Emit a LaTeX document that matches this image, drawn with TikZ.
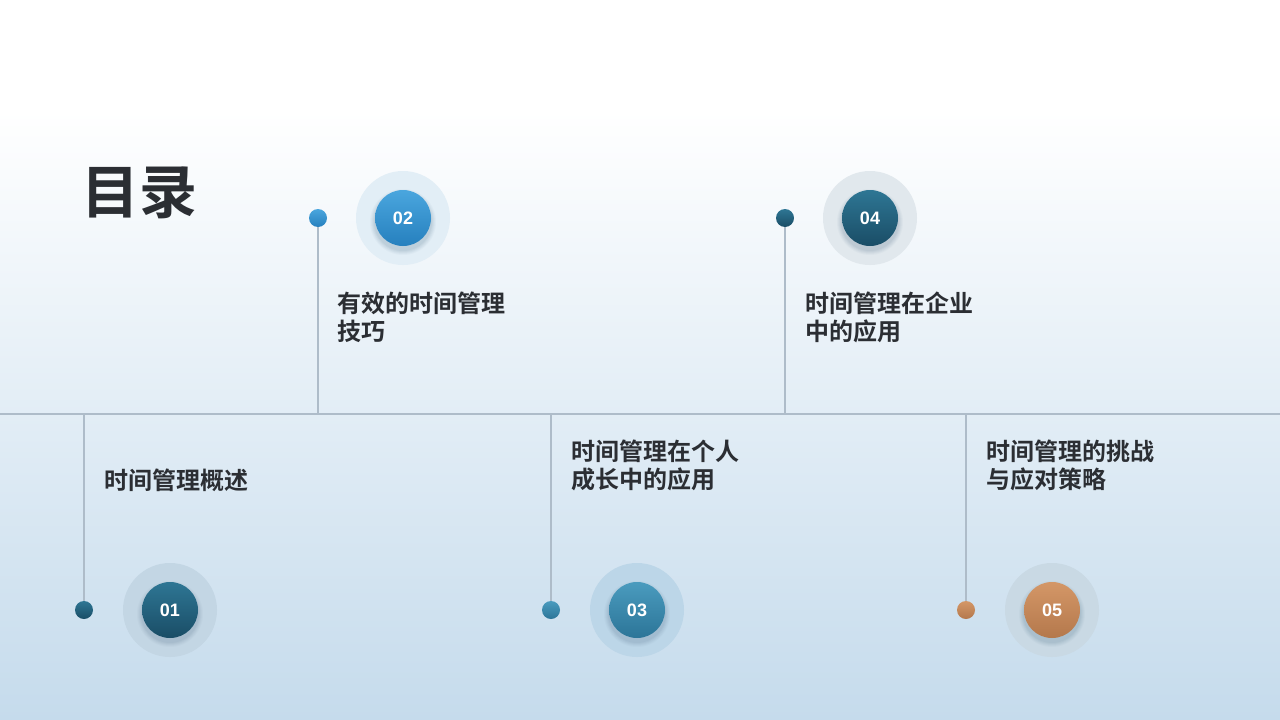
\documentclass[tikz,border=0pt]{standalone}
\usepackage{fontspec}
\newfontfamily\cjk{Noto Sans CJK SC}[BoldFont={Noto Sans CJK SC Bold}]
\newfontfamily\numf{Liberation Sans}
\definecolor{txt}{HTML}{2B2E33}
\definecolor{bgbot}{HTML}{C5DBEC}
\definecolor{axis}{HTML}{AEBCC9}
\definecolor{tealA}{HTML}{2E7694}
\definecolor{tealB}{HTML}{1A4D66}
\definecolor{blueA}{HTML}{4AA6DE}
\definecolor{blueB}{HTML}{2680BE}
\definecolor{midA}{HTML}{4A9BBE}
\definecolor{midB}{HTML}{2C7598}
\definecolor{orA}{HTML}{D49767}
\definecolor{orB}{HTML}{B4784C}
\definecolor{haloA}{HTML}{C3D6E4}
\definecolor{haloB}{HTML}{E2EEF6}
\definecolor{haloC}{HTML}{BCD6E8}
\definecolor{haloD}{HTML}{E1E8ED}
\definecolor{haloE}{HTML}{C9D9E4}
\definecolor{shad}{HTML}{5F7F96}
\tikzset{
  lbl/.style={anchor=west,align=left,font=\cjk\bfseries\fontsize{24}{28}\selectfont,text=txt,inner sep=0pt},
  stem/.style={draw=axis,line width=1.2pt},
  halo/.style={circle,minimum size=94pt,inner sep=0pt},
  num/.style={circle,minimum size=56pt,inner sep=0pt,text=white,font=\numf\bfseries\fontsize{18}{18}\selectfont},
  dot/.style={circle,minimum size=18pt,inner sep=0pt},
}
\newcommand{\softshadow}[1]{%
  \foreach \r/\o in {33/0.04,32/0.05,31/0.06,30/0.07,29/0.08}{\fill[shad,opacity=\o] #1 circle (\r);}}
\begin{document}
\begin{tikzpicture}[x=1pt,y=-1pt]
\useasboundingbox (0,0) rectangle (1280,720);
\fill[white] (0,0) rectangle (1280,110);
\shade[top color=white,bottom color=bgbot] (0,110) rectangle (1280,720);
% title
\node[anchor=west,inner sep=0pt,font=\cjk\bfseries\fontsize{58}{58}\selectfont,text=txt] (title) at (81,193) {目录};
% axis
\coordinate (axL) at (0,414);
\coordinate (axR) at (1280,414);
\draw[axis,line width=1.2pt] (axL) -- (axR);
% item 1
\coordinate (b1) at (84,414);
\node[dot,shading=axis,top color=tealA,bottom color=tealB] (d1) at (84,610) {};
\draw[stem] (b1) -- (d1.north);
\node[halo,fill=haloA] (h1) at (170,610) {};
\softshadow{(170,614)}
\node[num,shading=axis,top color=tealA,bottom color=tealB] (n1) at (170,610) {01};
\node[lbl] (l1) at (104,480) {时间管理概述};
% item 2
\coordinate (b2) at (318,414);
\node[dot,shading=axis,top color=blueA,bottom color=blueB] (d2) at (318,218) {};
\draw[stem] (d2.south) -- (b2);
\node[halo,fill=haloB] (h2) at (403,218) {};
\softshadow{(403,222)}
\node[num,shading=axis,top color=blueA,bottom color=blueB] (n2) at (403,218) {02};
\node[lbl] (l2) at (337,317) {有效的时间管理\\技巧};
% item 3
\coordinate (b3) at (551,414);
\node[dot,shading=axis,top color=midA,bottom color=midB] (d3) at (551,610) {};
\draw[stem] (b3) -- (d3.north);
\node[halo,fill=haloC] (h3) at (637,610) {};
\softshadow{(637,614)}
\node[num,shading=axis,top color=midA,bottom color=midB] (n3) at (637,610) {03};
\node[lbl] (l3) at (571,465) {时间管理在个人\\成长中的应用};
% item 4
\coordinate (b4) at (785,414);
\node[dot,shading=axis,top color=tealA,bottom color=tealB] (d4) at (785,218) {};
\draw[stem] (d4.south) -- (b4);
\node[halo,fill=haloD] (h4) at (870,218) {};
\softshadow{(870,222)}
\node[num,shading=axis,top color=tealA,bottom color=tealB] (n4) at (870,218) {04};
\node[lbl] (l4) at (805,317) {时间管理在企业\\中的应用};
% item 5
\coordinate (b5) at (966,414);
\node[dot,shading=axis,top color=orA,bottom color=orB] (d5) at (966,610) {};
\draw[stem] (b5) -- (d5.north);
\node[halo,fill=haloE] (h5) at (1052,610) {};
\softshadow{(1052,614)}
\node[num,shading=axis,top color=orA,bottom color=orB] (n5) at (1052,610) {05};
\node[lbl] (l5) at (986,465) {时间管理的挑战\\与应对策略};
\end{tikzpicture}
\end{document}
